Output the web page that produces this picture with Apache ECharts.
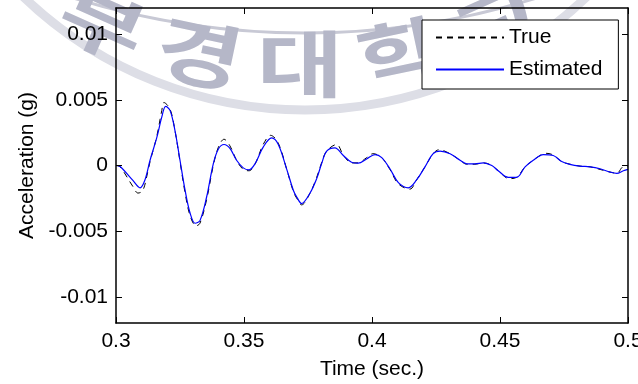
<!DOCTYPE html>
<html>
<head>
<meta charset="utf-8">
<script src="https://cdn.jsdelivr.net/npm/echarts@6/dist/echarts.min.js"></script>
<style>
  html, body { margin: 0; padding: 0; background: #ffffff; }
  #chart { width: 638px; height: 384px; }
</style>
</head>
<body>
<div id="chart"></div>
<script>
// Measured response (dashed black)
const timeTrue = [0.3000, 0.3016, 0.3066, 0.3086, 0.3105, 0.3125, 0.3133, 0.3159, 0.3179, 0.3187, 0.3211,
  0.3230, 0.3250, 0.3270, 0.3289, 0.3313, 0.3328, 0.3354, 0.3380, 0.3400, 0.3422, 0.3445, 0.3471,
  0.3497, 0.3520, 0.3543, 0.3575, 0.3604, 0.3634, 0.3667, 0.3693, 0.3706, 0.3725, 0.3758, 0.3784,
  0.3803, 0.3823, 0.3862, 0.3888, 0.3920, 0.3946, 0.3979, 0.4004, 0.4038, 0.4070, 0.4103, 0.4148,
  0.4174, 0.4207, 0.4239, 0.4262, 0.4305, 0.4344, 0.4370, 0.4402, 0.4435, 0.4468, 0.4493, 0.4536,
  0.4565, 0.4598, 0.4630, 0.4680, 0.4708, 0.4741, 0.4773, 0.4813, 0.4852, 0.4891, 0.4930, 0.4956,
  0.4982, 0.5000];
const accTrue = [0, -0.0001, -0.0016, -0.0021, -0.0019, -0.0004, 0.0003, 0.0022, 0.0042, 0.0048, 0.0043,
  0.0027, 0.0003, -0.0021, -0.0038, -0.0046, -0.0044, -0.0026, 0.0000, 0.0014, 0.0020, 0.0015, 0.0004,
  -0.0003, -0.0004, 0.0001, 0.0016, 0.0023, 0.0017, -0.0003, -0.0020, -0.0025, -0.0030, -0.0021, -0.0009,
  0.0002, 0.0011, 0.0016, 0.0008, 0.0002, 0.0002, 0.0006, 0.0009, 0.0006, -0.0003, -0.0014, -0.0018,
  -0.0011, -0.0001, 0.0009, 0.0012, 0.0009, 0.0004, 0.0001, 0.0001, 0.0002, 0.0000, -0.0004, -0.0010,
  -0.0009, -0.0001, 0.0004, 0.00093, 0.0008, 0.0003, 0.0001, -0.00005, -0.0001, -0.0003, -0.0005, -0.0006,
  -0.0001, -0.0001];

// Identified response (solid blue)
const timeEst = [0.3000, 0.3016, 0.3066, 0.3094, 0.3113, 0.3133, 0.3159, 0.3179, 0.3194, 0.3211, 0.3230,
  0.3250, 0.3270, 0.3289, 0.3309, 0.3328, 0.3354, 0.3380, 0.3400, 0.3422, 0.3445, 0.3471, 0.3497,
  0.3520, 0.3543, 0.3575, 0.3608, 0.3634, 0.3667, 0.3693, 0.3706, 0.3725, 0.3758, 0.3784, 0.3803,
  0.3823, 0.3855, 0.3888, 0.3920, 0.3946, 0.3979, 0.4012, 0.4038, 0.4070, 0.4103, 0.4142, 0.4174,
  0.4207, 0.4239, 0.4266, 0.4305, 0.4344, 0.4370, 0.4402, 0.4435, 0.4468, 0.4493, 0.4532, 0.4565,
  0.4598, 0.4630, 0.4669, 0.4708, 0.4741, 0.4773, 0.4813, 0.4852, 0.4891, 0.4930, 0.4956, 0.4982,
  0.5000];
const accEst = [0, -0.00008, -0.00114, -0.0017, -0.0011, 0.0004, 0.0021, 0.0037, 0.0045, 0.0042, 0.0027,
  0.0004, -0.0019, -0.0036, -0.0044, -0.0042, -0.0024, 0.00013, 0.00126, 0.0016, 0.0013, 0.0004, -0.00018,
  -0.00033, 0.00013, 0.0014, 0.0021, 0.0016, -0.0003, -0.0019, -0.0024, -0.0029, -0.0021, -0.0010, 0.00013,
  0.0011, 0.00134, 0.00076, 0.00025, 0.00018, 0.0005, 0.00083, 0.0006, -0.00025, -0.0013, -0.0017, -0.0011,
  -0.0001, 0.0009, 0.0011, 0.0009, 0.0004, 0.00013, 0.00013, 0.0002, 0.0000, -0.0004, -0.0009, -0.0009,
  -0.0001, 0.0004, 0.00083, 0.00076, 0.0003, 0.00008, -0.00005, -0.0001, -0.00025, -0.0005, -0.0006, -0.0004,
  -0.0003];

const seriesNames = ['True', 'Estimated'];
const xTicks = [0.3, 0.35, 0.4, 0.45, 0.5];
const yTicks = [-0.01, -0.005, 0, 0.005, 0.01];
const xLabel = 'Time (sec.)';
const yLabel = 'Acceleration (g)';
const sealChars = ['부', '경', '대', '학', '교'];

const FONT = 'Liberation Sans, Arial, sans-serif';

const pairs = (t, v) => t.map((x, i) => [x, v[i]]);

// University seal watermark behind the plot
const sealCx = 300, sealCy = -420, sealR = 484;
const sealStep = 12 * Math.PI / 180;
const sealElements = [
  {
    type: 'arc', z: -10, silent: true,
    shape: { cx: 305, cy: -297, r: 407, startAngle: 0, endAngle: Math.PI },
    style: { stroke: '#dddee6', lineWidth: 9, fill: null }
  },
  {
    type: 'arc', z: -10, silent: true,
    shape: { cx: 305, cy: -750, r: 783, startAngle: 0, endAngle: Math.PI },
    style: { stroke: '#c8c9d5', lineWidth: 3, fill: null }
  }
];
sealChars.forEach((ch, i) => {
  const a = (i - 2) * sealStep;
  sealElements.push({
    type: 'text', z: -9, silent: true,
    x: sealCx + sealR * Math.sin(a),
    y: sealCy + sealR * Math.cos(a),
    rotation: a,
    scaleX: 1.3,
    style: {
      text: ch,
      fontFamily: 'Noto Sans CJK KR',
      fontWeight: 'bold',
      fontSize: 72,
      fill: '#b5b7c8',
      align: 'center',
      verticalAlign: 'middle'
    }
  });
});

const chart = echarts.init(document.getElementById('chart'), null, { renderer: 'canvas' });

const tickInside = { show: true, inside: true, length: 6, lineStyle: { color: '#000', width: 1 } };
const axisLineStyle = { show: true, onZero: false, lineStyle: { color: '#000', width: 1.5 } };

chart.setOption({
  backgroundColor: '#ffffff',
  animation: false,
  textStyle: { fontFamily: FONT },
  graphic: { elements: sealElements },
  grid: {
    left: 116, right: 10, top: 8, bottom: 61,
    containLabel: false, outerBoundsMode: 'none', show: false
  },
  legend: {
    data: seriesNames,
    orient: 'vertical',
    left: 422,
    top: 20,
    padding: [7, 16, 9, 13],
    itemGap: 11,
    itemWidth: 68,
    itemHeight: 10,
    backgroundColor: '#ffffff',
    borderColor: '#000000',
    borderWidth: 1,
    borderRadius: 0,
    itemStyle: { opacity: 0 },
    textStyle: { fontFamily: FONT, fontSize: 21, color: '#000', lineHeight: 21 },
    selectedMode: false,
    z: 10
  },
  xAxis: [
    {
      type: 'value', position: 'bottom',
      min: xTicks[0], max: xTicks[xTicks.length - 1], interval: 0.05,
      axisLine: axisLineStyle,
      axisTick: tickInside,
      splitLine: { show: false },
      axisLabel: {
        show: true, margin: 8, fontFamily: FONT, fontSize: 21, color: '#000',
        showMinLabel: true, showMaxLabel: true, hideOverlap: false,
        formatter: v => String(+v.toFixed(3))
      },
      name: xLabel, nameLocation: 'middle', nameGap: 36,
      nameTextStyle: { fontFamily: FONT, fontSize: 21, color: '#000' },
      z: 5
    },
    {
      type: 'value', position: 'top',
      min: xTicks[0], max: xTicks[xTicks.length - 1], interval: 0.05,
      axisLine: axisLineStyle,
      axisTick: tickInside,
      splitLine: { show: false },
      axisLabel: { show: false },
      z: 5
    }
  ],
  yAxis: [
    {
      type: 'value', position: 'left',
      min: -0.012, max: 0.012,
      axisLine: axisLineStyle,
      axisTick: Object.assign({}, tickInside, { customValues: yTicks }),
      splitLine: { show: false },
      axisLabel: {
        show: true, margin: 8, fontFamily: FONT, fontSize: 21, color: '#000',
        customValues: yTicks,
        formatter: v => String(+v.toFixed(4))
      },
      name: yLabel, nameLocation: 'middle', nameRotate: 90, nameGap: 75,
      nameTextStyle: { fontFamily: FONT, fontSize: 21, color: '#000' },
      z: 5
    },
    {
      type: 'value', position: 'right',
      min: -0.012, max: 0.012,
      axisLine: axisLineStyle,
      axisTick: Object.assign({}, tickInside, { customValues: yTicks }),
      splitLine: { show: false },
      axisLabel: { show: false, customValues: yTicks },
      z: 5
    }
  ],
  series: [
    {
      name: seriesNames[0], type: 'line',
      xAxisIndex: 0, yAxisIndex: 0,
      data: pairs(timeTrue, accTrue),
      symbol: 'none', showSymbol: false,
      smooth: 0.35,
      lineStyle: { color: '#000000', width: 1, type: [6, 5] },
      itemStyle: { color: '#000000' },
      z: 3
    },
    {
      name: seriesNames[1], type: 'line',
      xAxisIndex: 0, yAxisIndex: 0,
      data: pairs(timeEst, accEst),
      symbol: 'none', showSymbol: false,
      smooth: 0.35,
      lineStyle: { color: '#0000ff', width: 1.2, type: 'solid' },
      itemStyle: { color: '#0000ff' },
      z: 4
    }
  ]
});
</script>
</body>
</html>
